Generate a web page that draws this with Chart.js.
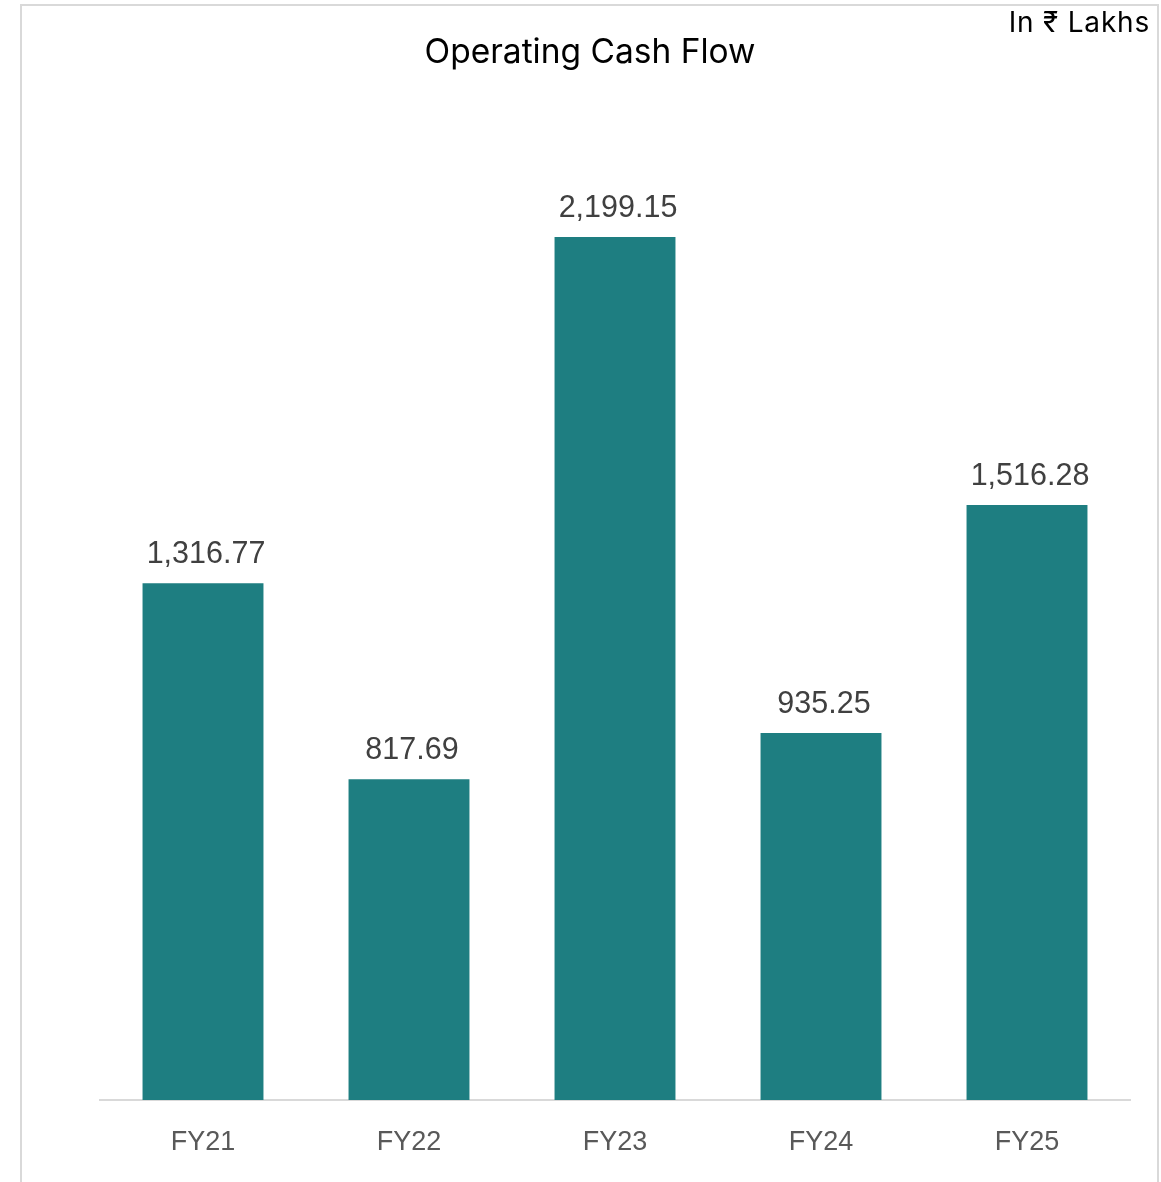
<!DOCTYPE html>
<html>
<head>
<meta charset="utf-8">
<script src="https://cdn.jsdelivr.net/npm/chart.js@4"></script>
<style>
  html, body { margin: 0; padding: 0; background: #ffffff; }
  #wrap { position: relative; width: 1161px; height: 1182px; }
  canvas { display: block; }
</style>
</head>
<body>
<div id="wrap"><canvas id="c" width="1161" height="1182"></canvas></div>
<script>
const categories = ["FY21", "FY22", "FY23", "FY24", "FY25"];
const cashFlow = [1316.77, 817.69, 2199.15, 935.25, 1516.28];
const titleText = "Operating Cash Flow";
const unitText = "In \u20B9 Lakhs";

const fmt = v => v.toLocaleString("en-US", { minimumFractionDigits: 2, maximumFractionDigits: 2 });

const decorPlugin = {
  id: "decor",
  beforeDraw(chart) {
    const ctx = chart.ctx;
    ctx.save();
    ctx.fillStyle = "#ffffff";
    ctx.fillRect(0, 0, chart.width, chart.height);
    ctx.strokeStyle = "#d9d9d9";
    ctx.lineWidth = 2;
    ctx.beginPath();
    ctx.moveTo(21, 1182);
    ctx.lineTo(21, 5);
    ctx.lineTo(1158, 5);
    ctx.lineTo(1158, 1182);
    ctx.stroke();
    ctx.restore();
  },
  afterDraw(chart) {
    const ctx = chart.ctx;
    ctx.save();
    // title
    ctx.fillStyle = "#000000";
    ctx.font = "33.5px Inter, 'Noto Sans', sans-serif";
    ctx.textAlign = "center";
    ctx.textBaseline = "alphabetic";
    ctx.fillText(titleText, 590, 63);
    // unit
    ctx.font = "28px Inter, 'Noto Sans', sans-serif";
    ctx.letterSpacing = "0.8px";
    ctx.textAlign = "right";
    ctx.fillText(unitText, 1150, 32);
    ctx.letterSpacing = "0px";
    // data labels
    const meta = chart.getDatasetMeta(0);
    ctx.fillStyle = "#404040";
    ctx.font = "30.5px 'Liberation Sans', Arial, sans-serif";
    ctx.textAlign = "center";
    meta.data.forEach((bar, i) => {
      ctx.fillText(fmt(chart.data.datasets[0].data[i]), bar.x + 3, bar.y - 20);
    });
    ctx.restore();
  }
};

new Chart(document.getElementById("c"), {
  type: "bar",
  data: {
    labels: categories,
    datasets: [{
      data: cashFlow,
      backgroundColor: "#1e7e81",
      borderWidth: 0,
      categoryPercentage: 1,
      barPercentage: 0.587
    }]
  },
  options: {
    responsive: false,
    animation: false,
    devicePixelRatio: 1,
    layout: { padding: { left: 100, right: 31, top: 119, bottom: 0 } },
    plugins: {
      legend: { display: false },
      title: { display: false },
      tooltip: { enabled: false }
    },
    scales: {
      x: {
        grid: { display: false, drawTicks: false },
        border: { display: true, color: "#d9d9d9", width: 2 },
        ticks: {
          color: "#595959",
          font: { family: "'Liberation Sans', Arial, sans-serif", size: 27 },
          padding: 26,
          maxRotation: 0
        },
        afterFit(scale) { scale.height = 82; }
      },
      y: {
        display: false,
        min: 0,
        max: 2500
      }
    }
  },
  plugins: [decorPlugin]
});
</script>
</body>
</html>
